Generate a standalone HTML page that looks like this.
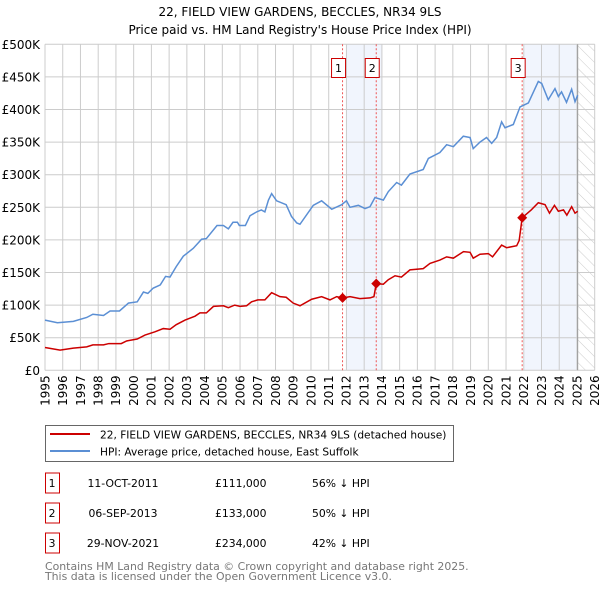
<!DOCTYPE html>
<html><head><meta charset="utf-8"><style>
body{margin:0;background:#fff;font-family:"Liberation Sans","DejaVu Sans",sans-serif;}
svg text{font-family:"DejaVu Sans","Liberation Sans",sans-serif;}
</style></head><body>
<svg id="chart" width="600" height="590" xmlns="http://www.w3.org/2000/svg">
<text x="300" y="16" font-size="12" text-anchor="middle">22, FIELD VIEW GARDENS, BECCLES, NR34 9LS</text>
<text x="300" y="34" font-size="12" text-anchor="middle">Price paid vs. HM Land Registry's House Price Index (HPI)</text>
<defs><pattern id="hatch" width="8" height="8" patternUnits="userSpaceOnUse" patternTransform="rotate(-45)"><line x1="0" y1="0" x2="0" y2="8" stroke="#ccc" stroke-width="1"/></pattern></defs>
<g id="grid"></g><g id="marks"></g><g id="axes"></g>
<g>
<rect x="45.5" y="425.5" width="408" height="36" fill="#fff" stroke="#666"/>
<line x1="50" y1="434" x2="90" y2="434" stroke="#cc0000" stroke-width="2"/>
<text x="100" y="438.5" font-size="10.6">22, FIELD VIEW GARDENS, BECCLES, NR34 9LS (detached house)</text>
<line x1="50" y1="451" x2="90" y2="451" stroke="#5b8fd4" stroke-width="2"/>
<text x="100" y="455.5" font-size="10.6">HPI: Average price, detached house, East Suffolk</text>
</g>
<g id="table" font-size="10.8"></g>
<text x="45" y="570" font-size="10.9" fill="#777">Contains HM Land Registry data © Crown copyright and database right 2025.</text>
<text x="45" y="580" font-size="10.9" fill="#777">This data is licensed under the Open Government Licence v3.0.</text>
</svg>
<script>
const hpiYears=[1995,1995.7,1996.6,1997.35,1997.7,1998.3,1998.67,1999.2,1999.7,2000.2,2000.55,2000.8,2001.1,2001.5,2001.8,2002.05,2002.4,2002.8,2003.36,2003.83,2004.1,2004.7,2005.06,2005.34,2005.6,2005.85,2005.96,2006.3,2006.56,2006.94,2007.2,2007.4,2007.6,2007.78,2008.06,2008.6,2008.9,2009.2,2009.38,2010.13,2010.6,2011.17,2011.73,2012.0,2012.2,2012.67,2013.05,2013.33,2013.61,2014.08,2014.36,2014.83,2015.1,2015.58,2016.33,2016.62,2017.27,2017.65,2018.03,2018.59,2018.97,2019.15,2019.53,2019.9,2020.19,2020.47,2020.75,2020.94,2021.41,2021.79,2022.26,2022.82,2023.01,2023.38,2023.76,2023.95,2024.13,2024.41,2024.7,2024.89,2025.04];
const hpiValues=[77,73,75,81,86,84,91,91,103,105,120,118,126,131,144,143,159,175,187,201,202,222,222,217,227,227,222,222,237,243,246,243,261,271,260,254,236,226,224,253,260,247,254,260,250,253,248,251,265,261,274,288,284,301,308,325,334,346,343,359,357,340,350,357,348,357,381,372,377,404,410,443,440,415,432,420,427,411,431,412,422];
const ppYears=[1995,1995.85,1996.6,1997.35,1997.7,1998.3,1998.6,1999.3,1999.6,2000.2,2000.64,2001.2,2001.67,2002.05,2002.4,2002.9,2003.46,2003.74,2004.1,2004.5,2005.06,2005.34,2005.7,2006.0,2006.37,2006.65,2007.0,2007.4,2007.78,2008.25,2008.6,2009.0,2009.38,2010.04,2010.6,2011.07,2011.45,2011.78,2012.2,2012.76,2013.33,2013.55,2013.68,2014.08,2014.36,2014.74,2015.1,2015.58,2016.33,2016.71,2017.27,2017.65,2018.03,2018.6,2018.97,2019.15,2019.53,2020.0,2020.24,2020.75,2021.03,2021.6,2021.74,2021.91,2022.42,2022.82,2023.2,2023.45,2023.73,2023.95,2024.24,2024.43,2024.7,2024.89,2025.04];
const ppValues=[35,31,34,36,39,39,41,41,45,48,54,59,64,63,70,77,83,88,88,98,99,96,100,98,99,105,108,108,119,113,112,103,99,109,113,108,113,111,113,110,111,113,133,132,139,145,143,154,156,164,169,174,172,182,181,172,178,179,174,192,188,191,199,234,246,257,254,241,253,244,246,238,251,241,244];
const saleIds=["1","2","3"];
const saleYears=[2011.78,2013.68,2021.91];
const saleValues=[111,133,234];
const saleDates=["11-OCT-2011","06-SEP-2013","29-NOV-2021"];
const salePrices=["£111,000","£133,000","£234,000"];
const saleDiffs=["56% ↓ HPI","50% ↓ HPI","42% ↓ HPI"];
const yTicks=[0,50,100,150,200,250,300,350,400,450,500];
const yTickLabels=["£0","£50K","£100K","£150K","£200K","£250K","£300K","£350K","£400K","£450K","£500K"];
const xTicks=[1995,1996,1997,1998,1999,2000,2001,2002,2003,2004,2005,2006,2007,2008,2009,2010,2011,2012,2013,2014,2015,2016,2017,2018,2019,2020,2021,2022,2023,2024,2025,2026];
const shadeRanges=[[2012,2014],[2022,2025.04]];
const dataEnd=2025.04;

const X0=45,X1=594.7,Y0=370.3,Y1=44.3;
const x=v=>X0+(v-1995)/(2026-1995)*(X1-X0);
const y=v=>Y0-v/500*(Y0-Y1);
const NS="http://www.w3.org/2000/svg";
function mk(tag,attrs,parent){const e=document.createElementNS(NS,tag);for(const k in attrs)e.setAttribute(k,attrs[k]);parent.appendChild(e);return e;}
const grid=document.getElementById('grid'),marks=document.getElementById('marks'),axes=document.getElementById('axes'),table=document.getElementById('table');

shadeRanges.forEach(r=>{const e=mk('rect',{x:x(r[0]),y:Y1,width:x(r[1])-x(r[0]),height:Y0-Y1,fill:'#eef3fc',opacity:0.8},grid);

});
const h=mk('rect',{x:x(dataEnd),y:Y1,width:X1-x(dataEnd),height:Y0-Y1,fill:'url(#hatch)'},grid);


xTicks.forEach(t=>{mk('line',{x1:x(t),x2:x(t),y1:Y1,y2:Y0,stroke:'#ccc','stroke-width':1},grid);
const tx=mk('text',{x:0,y:0,'font-size':12,'text-anchor':'end',transform:`translate(${x(t)+4.3},${Y0+5}) rotate(-90)`},axes);
tx.textContent=t;

});
yTicks.forEach((t,i)=>{mk('line',{x1:X0,x2:X1,y1:y(t),y2:y(t),stroke:'#ccc','stroke-width':1},grid);
const tx=mk('text',{x:40,y:y(t)+4.5,'font-size':12,'text-anchor':'end'},axes);
tx.textContent=yTickLabels[i];

});
mk('line',{x1:x(dataEnd),x2:x(dataEnd),y1:Y1,y2:Y0,stroke:'#999','stroke-width':1},grid);

saleYears.forEach((s,i)=>{const l=mk('line',{x1:x(s),x2:x(s),y1:Y1,y2:Y0,stroke:'#ee5555','stroke-width':1,'stroke-dasharray':'2,2'},marks);


const b=mk('rect',{x:x(s)-11,y:58.5,width:14,height:19,fill:'#fff',stroke:'#cc0000'},marks);


const t=mk('text',{x:x(s)-4,y:72,'font-size':11,'text-anchor':'middle'},marks);
t.textContent=saleIds[i];

});

const hp=mk('polyline',{points:hpiYears.map((v,i)=>x(v)+','+y(hpiValues[i])).join(' '),fill:'none',stroke:'#5b8fd4','stroke-width':1.5},marks);


const pp=mk('polyline',{points:ppYears.map((v,i)=>x(v)+','+y(ppValues[i])).join(' '),fill:'none',stroke:'#cc0000','stroke-width':1.5},marks);


saleYears.forEach((s,i)=>{const d=mk('path',{d:`M${x(s)},${y(saleValues[i])-5} l5,5 l-5,5 l-5,-5z`,fill:'#cc0000'},marks);

});

saleIds.forEach((id,i)=>{const cy=483+i*30;
const b=mk('rect',{x:45.5,y:cy-10,width:14,height:20,fill:'none',stroke:'#cc0000'},table);


const cols=[[52,id,'middle'],[123,saleDates[i],'middle'],[215,salePrices[i],'start'],[312,saleDiffs[i],'start']];
cols.forEach(c=>{const t=mk('text',{x:c[0],y:cy+4,'text-anchor':c[2]},table);
t.textContent=c[1];

});});
</script>
</body></html>
